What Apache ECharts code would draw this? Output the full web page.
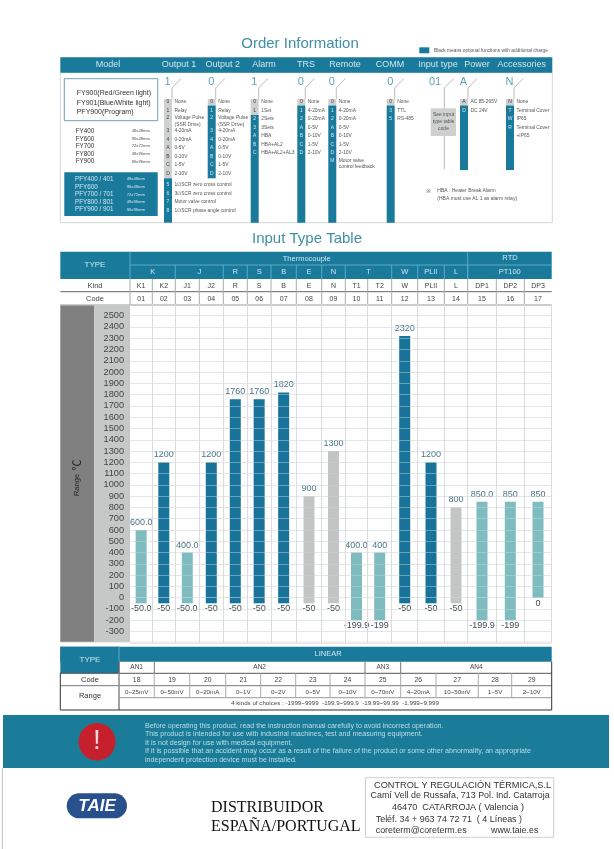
<!DOCTYPE html>
<html><head><meta charset="utf-8">
<style>html,body{margin:0;padding:0;background:#fff}#c{width:614px;height:849px}</style>
<script src="https://cdn.jsdelivr.net/npm/echarts@6/dist/echarts.min.js"></script>
</head><body><div id="c"></div>
<script>
// ---------- data ----------
const KINDS  = ['K1','K2','J1','J2','R','S','B','E','N','T1','T2','W','PLII','L','DP1','DP2','DP3'];
const CODES  = ['01','02','03','04','05','06','07','08','09','10','11','12','13','14','15','16','17'];
const HIGHS  = [600,1200,400,1200,1760,1760,1820,900,1300,400,400,2320,1200,800,850,850,850];
const LOWS   = [-50,-50,-50,-50,-50,-50,-50,-50,-50,-199.9,-199,-50,-50,-50,-199.9,-199,0];
const HIGH_LABELS = ['600.0','1200','400.0','1200','1760','1760','1820','900','1300','400.0','400','2320','1200','800','850.0','850','850'];
const LOW_LABELS  = ['-50.0','-50','-50.0','-50','-50','-50','-50','-50','-50','-199.9','-199','-50','-50','-50','-199.9','-199','0'];
const TONES  = ['light','blue','light','blue','blue','blue','blue','grey','grey','light','light','blue','blue','grey','light','light','light'];
const GROUPS = ['K','J','R','S','B','E','N','T','W','PLII','L','PT100'];
const GROUP_SPANS = [2,2,1,1,1,1,1,2,1,1,1,3];
const LINEAR_GROUPS = ['AN1','AN2','AN3','AN4'];
const LINEAR_SPANS = [1,6,1,4];
const LINEAR_CODES = ['18','19','20','21','22','23','24','25','26','27','28','29'];
const LINEAR_RANGES = ['0~25mV','0~50mV','0~20mA','0~1V','0~2V','0~5V','0~10V','0~70mV','4~20mA','10~50mV','1~5V','2~10V'];
const HEADERS = ['Model','Output 1','Output 2','Alarm','TRS','Remote','COMM','Input type','Power','Accessories'];
const MODELS = ['FY900(Red/Green light)','FY901(Blue/White light)','PFY900(Program)'];
const SIZES_A = [['FY400','48x48mm'],['FY600','96x48mm'],['FY700','72x72mm'],['FY800','48x96mm'],['FY900','96x96mm']];
const SIZES_B = [['PFY400 / 401','48x48mm'],['PFY600','96x48mm'],['PFY700 / 701','72x72mm'],['PFY800 / 801','48x96mm'],['PFY900 / 901','96x96mm']];
const OUT1 = [['0','None'],['1','Relay'],['2','Voltage Pulse'],['','(SSR Drive)'],['3','4-20mA'],['4','0-20mA'],['A','0-5V'],['B','0-10V'],['C','1-5V'],['D','2-10V']];
const OUT1B = [['5','1∅SCR zero cross control'],['6','3∅SCR zero cross control'],['7','Motor valve control'],['8','1∅SCR phase angle control']];
const ALARM = [['0','None'],['1','1Set'],['2','2Sets'],['3','3Sets'],['A','HBA'],['B','HBA+AL2'],['C','HBA+AL2+AL3']];
const TRS = [['0','None'],['1','4-20mA'],['2','0-20mA'],['A','0-5V'],['B','0-10V'],['C','1-5V'],['D','2-10V']];
const REMOTE = TRS.concat([['M','Motor valve'],['','control feedback']]);
const COMM = [['0','None'],['3','TTL'],['5','RS-485']];
const POWER = [['A','AC 85-265V'],['D','DC 24V']];
const ACCESS = [['N','None'],['T','Terminal Cover'],['W','IP65'],['R','Terminal Cover'],['','+IP65']];
const WARNING = ['Before operating this product, read the instruction manual carefully to avoid incorrect operation.',
 'This product is intended for use with industrial machines, test and measuring equipment.',
 'It is not design for use with medical equipment.',
 'If it is possible that an accident may occur as a result of the failure of the product or some other abnormality, an appropriate',
 'independent protection device must be installed.'];

// ---------- layout and style ----------
const TEAL='#1a7a9c', BAR_BLUE='#17739a', PALE='#cfe6ee', SANS='"Liberation Sans",Arial,sans-serif';
const TONE_COLOR={light:'#7fbcbf',blue:BAR_BLUE,grey:'#c3c5c5'};
const COL_EDGES=[130,152.3,175.3,199.3,223.3,247.3,271,296.3,321.7,345.3,367.7,391.7,417.7,444.3,467.7,496.3,524.3,551.7];
const LINEAR_EDGES=[119,154.3,189.7,225.7,260.7,295.7,330,365,400.7,436,478.3,511.7,551.7];
const centers=COL_EDGES.slice(0,-1).map((e,i)=>(e+COL_EDGES[i+1])/2-COL_EDGES[0]);

const g=[];
const R=(x,y,w,h,fill,stroke,r)=>g.push({type:'rect',silent:true,z:1,shape:{x,y,width:w,height:h,r:r||0},style:{fill:fill||'transparent',stroke:stroke||null,lineWidth:stroke?1:0}});
const L=(x1,y1,x2,y2,c,w)=>g.push({type:'line',silent:true,z:1,shape:{x1,y1,x2,y2},style:{stroke:c,lineWidth:w||1}});
const T=(text,x,y,size,fill,align,extra)=>g.push(Object.assign({type:'text',silent:true,z:2,x,y,style:{text,fill,align:align||'left',verticalAlign:'middle',font:`${(extra&&extra.weight)||''} ${size}px ${(extra&&extra.family)||SANS}`}},extra&&extra.el));

// order-information panel
T('Order Information',300,44,15,'#3f8ea8','center');
R(419.3,47.3,10,6,TEAL);
T('Black means optional functions with additional charge',434,50.3,4.8,'#555');
R(60.3,72.7,492,150,'#fff','#d4d8da');
R(60.3,57.3,492,15.4,TEAL);
[108,179,222.7,264,306,345,390,438,477,521.7].forEach((x,i)=>T(HEADERS[i],x,65,9,PALE,'center'));
R(64.3,78.7,93.4,42,'#fff','#6f9fb0');
MODELS.forEach((m,i)=>T(m,76.7,[93.3,103,111.7][i],7,'#333'));
SIZES_A.forEach((s,i)=>{const y=[131,139,146.3,154,161.7][i];T(s[0],75.7,y,6.3,'#333');T(s[1],131.7,y,4.2,'#555');});
R(64.3,172.3,93.4,43.7,TEAL);
SIZES_B.forEach((s,i)=>{const y=[179.3,187.3,194.7,202,209.7][i];T(s[0],75,y,6.3,PALE);T(s[1],126.7,y,4.2,PALE);});

function column(x,digit,items,ys,greyTo,bottom,lower,lowerYs){
  L(x+8,88,x+8,99,'#bbb');L(x+8,88,x+17,78.5,'#bbb');
  T(digit,x+3.5,82.3,11,'#5fa3b0','center');
  R(x,99,8,greyTo-99,'#cfd0d0');
  R(x,greyTo,8,bottom-greyTo,TEAL);
  const put=(list,yy)=>list.forEach((it,i)=>{
    if(it[0])T(it[0],x+4,yy[i],5,yy[i]<greyTo?'#444':PALE,'center');
    T(it[1],x+10.5,yy[i],4.9,'#555');
  });
  put(items,ys);
  if(lower)put(lower,lowerYs);
}
const OUT_YS=[102,110.3,117.7,125,131,139.7,148,156.7,165,173.7];
const LOW_YS=[185,194,202,210.3];
const ROW_YS=[102,110.3,119,127.3,135.7,144.3,152.3,161,167];
column(164,'1',OUT1,OUT_YS,178.3,222.7,OUT1B,LOW_YS);
column(207.7,'0',OUT1,OUT_YS,105.5,178.3);
column(250.7,'1',ALARM,ROW_YS,115,222.7);
column(297.3,'0',TRS,ROW_YS,105.5,222.7);
column(328.3,'0',REMOTE,ROW_YS,105.5,222.7);
column(386.7,'0',COMM,ROW_YS,105.5,222.7);
column(460,'A',POWER,ROW_YS,105.5,170);
column(506,'N',ACCESS,ROW_YS,105.5,170);
T('01',435,82.3,11,'#5fa3b0','center');
L(444.3,88,444.3,169.3,'#bbb');L(444.3,88,453.6,78.5,'#bbb');
R(430.7,108.3,25.3,27.7,'#cfd0d0');
['See input','type table','code'].forEach((s,i)=>T(s,443.5,[115,122,128.5][i],5,'#555','center'));
T('※',428.3,191,6,'#666','center');
T('HBA : Heater Break Alarm',437.3,191,5,'#555');
T('(HBA must use AL 1 as alarm relay)',437.3,198.3,5,'#555');

// input type table
T('Input Type Table',307,239,15,'#3f8ea8','center');
R(60.3,251.7,491.4,27.3,TEAL);
T('TYPE',95,265,8,PALE,'center');
T('Thermocouple',306.7,258.7,7.5,PALE,'center');
T('RTD',510,258.4,7.5,PALE,'center');
const SEP='#5aa9c2';
L(130,265,551.7,265,SEP);L(130,251.7,130,279,SEP);L(467.7,251.7,467.7,279,SEP);
let idx=0;
GROUPS.forEach((name,i)=>{
  const a=COL_EDGES[idx],b=COL_EDGES[idx+GROUP_SPANS[i]];idx+=GROUP_SPANS[i];
  T(name,(a+b)/2,272.3,7.5,PALE,'center');
  if(b<551)L(b,265,b,279,SEP);
});
L(60.3,291.7,551.7,291.7,'#666');L(60.3,305,551.7,305,'#999');
T('Kind',95,286,7.5,'#444','center');T('Code',95,299,7.5,'#444','center');
COL_EDGES.slice(0,-1).forEach((e,i)=>{
  L(e,279,e,305,'#aaa');
  T(KINDS[i],(e+COL_EDGES[i+1])/2,285.8,7,'#444','center');
  T(CODES[i],(e+COL_EDGES[i+1])/2,298.8,7,'#444','center');
});
R(60.3,305.5,34,336.5,'#808080');
R(94.3,305.5,35.7,336.5,'#c6c7c7');
T('Range',76.7,485,7.5,'#222','center',{el:{rotation:Math.PI/2}});
T('℃',76.7,465,11,'#222','center',{el:{rotation:Math.PI/2},family:'"Noto Sans CJK SC",sans-serif'});
R(60.3,641.7,491.4,.8,'#d8d8d8');

// linear table
R(60.3,646.7,491.4,15,TEAL);
R(60.3,646.7,58.7,26.6,TEAL);
T('TYPE',90,660,8,PALE,'center');
T('LINEAR',328,654,7.5,PALE,'center');
L(119,646.7,119,661.7,SEP);
L(119,661.7,119,710,'#444');
L(60.3,673.3,551.7,673.3,'#555');L(60.3,685.7,551.7,685.7,'#777');L(119,697.7,551.7,697.7,'#999');
L(60.3,710,551.7,710,'#333',1.2);L(60.3,673,60.3,710,'#333');L(551.7,661.7,551.7,710,'#333');
T('Code',90,679.7,7.5,'#333','center');T('Range',90,696,7.5,'#333','center');
idx=0;
LINEAR_GROUPS.forEach((name,i)=>{
  const a=LINEAR_EDGES[idx],b=LINEAR_EDGES[idx+LINEAR_SPANS[i]];idx+=LINEAR_SPANS[i];
  T(name,(a+b)/2,667.6,6.5,'#444','center');
  L(a,661.7,a,673.3,'#777');
});
LINEAR_EDGES.slice(0,-1).forEach((e,i)=>{
  const c=(e+LINEAR_EDGES[i+1])/2;
  L(e,673.3,e,697.7,'#aaa');
  T(LINEAR_CODES[i],c,679.7,6.8,'#444','center');
  T(LINEAR_RANGES[i],c,691.8,6.2,'#444','center');
});
T('4 kinds of choices : -1999~9999  -199.9~999.9  -19.99~99.99  -1.999~9.999',335,703.7,6.2,'#444','center');

// warning band and footer
R(3,715,606,53,'#1a7c98');
g.push({type:'ellipse',silent:true,z:1,shape:{cx:97,cy:741.7,rx:18.5,ry:18.7},style:{fill:'#c6202c'}});
T('!',97,741.7,28,'#f3d9d9','center');
WARNING.forEach((s,i)=>T(s,145,[725.7,734,742.7,750.7,760][i],7.1,'#bcdde6'));
L(2.4,768,2.4,849,'#c8c8c8',1.2);
R(66.7,793.3,60.3,25,'#28508c',null,12.5);
T('TAIE',97,806,17,'#fff','center',{weight:'italic bold'});
const SERIF='"Liberation Serif","Times New Roman",serif';
T('DISTRIBUIDOR',211,807.7,16,'#111','left',{family:SERIF});
T('ESPAÑA/PORTUGAL',211,826.7,16,'#111','left',{family:SERIF});
R(365.5,777.7,188.2,59.6,'#fff','#cfcfcf');
T('CONTROL Y REGULACIÓN TÉRMICA,S.L',374,785,9.2,'#333');
T('Camí Vell de Russafa, 713 Pol. Ind. Catarroja',370.6,795.7,8.9,'#333');
T('46470  CATARROJA ( Valencia )',392,807.7,9.1,'#333');
T('Teléf. 34 + 963 74 72 71  ( 4 Líneas )',375.7,820,8.95,'#333');
T('coreterm@coreterm.es',375.7,830.7,8.9,'#333');
T('www.taie.es',491,830.7,8.9,'#333');

// ---------- chart ----------
const barItem=(v,i)=>({value:[centers[i],v],itemStyle:{color:TONE_COLOR[TONES[i]]}});
const chart=echarts.init(document.getElementById('c'),null,{renderer:'canvas'});
chart.setOption({
  animation:false,backgroundColor:'#fff',
  graphic:{elements:g},
  grid:{left:130,top:304.4,width:421.7,height:338.4,containLabel:false},
  xAxis:{type:'value',min:0,max:421.7,show:false},
  yAxis:{type:'value',min:-400,max:2600,interval:100,z:3,
    axisLine:{show:false},axisTick:{show:false},
    axisLabel:{margin:6,fontSize:9.2,color:'#444',fontFamily:SANS,formatter:v=>(v<=-400||v>=2600)?'':String(v)},
    splitLine:{show:true,lineStyle:{color:'rgba(195,208,214,.5)',width:1}}},
  series:[
    {name:'Upper limit',type:'bar',stack:'range',barWidth:11,z:2,
     data:HIGHS.map(barItem),
     label:{show:true,position:'top',distance:3,fontSize:9,color:'#4a7488',fontFamily:SANS,formatter:p=>HIGH_LABELS[p.dataIndex]}},
    {name:'Lower limit',type:'bar',stack:'range',barWidth:11,z:2,
     data:LOWS.map(barItem),
     label:{show:true,position:'bottom',distance:1,fontSize:9,color:'#3f4c52',fontFamily:SANS,formatter:p=>LOW_LABELS[p.dataIndex]},
     markLine:{silent:true,symbol:'none',label:{show:false},animation:false,lineStyle:{color:'#dcdcdc',width:1,type:'solid'},
       data:COL_EDGES.slice(1).map(e=>({xAxis:e-COL_EDGES[0]}))}}
  ]
});
</script></body></html>
